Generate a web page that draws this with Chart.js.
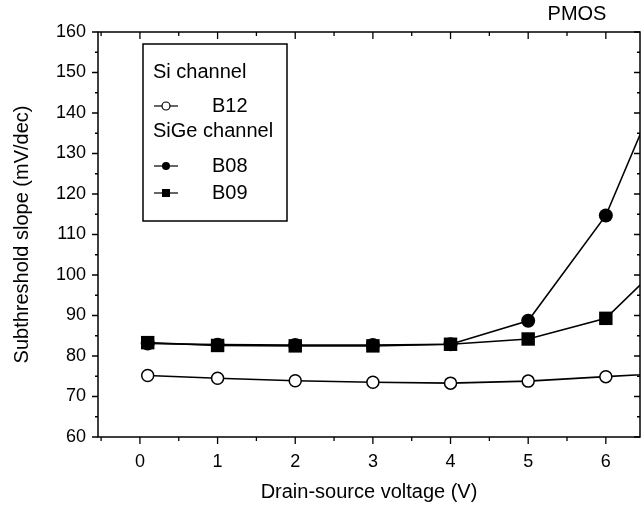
<!DOCTYPE html>
<html>
<head>
<meta charset="utf-8">
<script src="https://cdn.jsdelivr.net/npm/chart.js@4"></script>
<style>
  html, body { margin: 0; padding: 0; background: #fff; }
  #wrap { width: 644px; height: 508px; }
</style>
</head>
<body>
<div id="wrap"><canvas id="chart" width="644" height="508"></canvas></div>
<script>
// ── Data ──────────────────────────────────────────────────────
const voltage = [0.1, 1, 2, 3, 4, 5, 6, 7];
const b12 = [75.2, 74.5, 73.9, 73.5, 73.3, 73.8, 74.9, 76];
const b08 = [83.1, 82.8, 82.7, 82.7, 82.9, 88.7, 114.7, 160];
const b09 = [83.3, 82.6, 82.5, 82.5, 82.9, 84.2, 89.3, 108];
const xTicks = [0, 1, 2, 3, 4, 5, 6];
const yTicks = [60, 70, 80, 90, 100, 110, 120, 130, 140, 150, 160];

const FONT = 'Arial, "Liberation Sans", sans-serif';
const toXY = ys => voltage.map((x, i) => ({ x, y: ys[i] }));

// ── Frame, tick marks, legend box, PMOS label ─────────────────
const decor = {
  id: 'decor',
  beforeDraw(chart) {
    const ctx = chart.ctx;
    ctx.save();
    ctx.fillStyle = '#fff';
    ctx.fillRect(0, 0, chart.width, chart.height);
    ctx.restore();
  },
  afterDraw(chart) {
    const { ctx, chartArea: a, scales: { x, y } } = chart;
    ctx.save();
    ctx.strokeStyle = '#000';
    ctx.lineWidth = 1.5;
    ctx.strokeRect(a.left, a.top, a.right - a.left, a.bottom - a.top);

    ctx.lineWidth = 1.3;
    ctx.beginPath();
    for (let v = 60; v <= 160; v += 5) {
      const py = y.getPixelForValue(v);
      const len = v % 10 === 0 ? 6 : 3;
      ctx.moveTo(a.left - len, py); ctx.lineTo(a.left, py);
      ctx.moveTo(a.right - len, py); ctx.lineTo(a.right, py);
    }
    for (let v = -0.5; v <= 6.4; v += 0.5) {
      const px = x.getPixelForValue(v);
      if (px < a.left || px > a.right) continue;
      const len = Number.isInteger(v) ? 7 : 4;
      ctx.moveTo(px, a.bottom); ctx.lineTo(px, a.bottom + len);
      ctx.moveTo(px, a.top); ctx.lineTo(px, a.top + len);
    }
    ctx.stroke();

    // legend
    ctx.lineWidth = 1.5;
    ctx.strokeRect(143, 44, 144, 177);
    ctx.fillStyle = '#000';
    ctx.font = '20px ' + FONT;
    ctx.textBaseline = 'middle';
    ctx.textAlign = 'left';
    ctx.fillText('Si channel', 153, 72);
    ctx.fillText('SiGe channel', 153, 131);
    const rows = [['B12', 106, 'open'], ['B08', 166, 'dot'], ['B09', 193, 'sq']];
    rows.forEach(([label, ry, kind]) => {
      ctx.lineWidth = 1.2;
      ctx.beginPath();
      ctx.moveTo(154, ry); ctx.lineTo(178, ry);
      ctx.stroke();
      ctx.beginPath();
      if (kind === 'sq') {
        ctx.fillRect(162, ry - 4, 8, 8);
      } else {
        ctx.arc(166, ry, 4, 0, Math.PI * 2);
        if (kind === 'open') { ctx.fillStyle = '#fff'; ctx.fill(); ctx.fillStyle = '#000'; ctx.stroke(); }
        else ctx.fill();
      }
      ctx.fillText(label, 212, ry);
    });

    ctx.font = '20px ' + FONT;
    ctx.textAlign = 'center';
    ctx.fillText('PMOS', 577, 14);
    ctx.restore();
  }
};

const line = { borderColor: '#000', borderWidth: 1.6, tension: 0, clip: 0, pointBorderColor: '#000' };

new Chart(document.getElementById('chart'), {
  type: 'line',
  data: {
    datasets: [
      { ...line, label: 'B12', data: toXY(b12), pointStyle: 'circle', pointRadius: 6,
        pointBackgroundColor: '#fff', pointBorderWidth: 1.5 },
      { ...line, label: 'B08', data: toXY(b08), pointStyle: 'circle', pointRadius: 7,
        pointBackgroundColor: '#000', pointBorderWidth: 0 },
      { ...line, label: 'B09', data: toXY(b09), pointStyle: 'rect', pointRadius: 9.5,
        pointBackgroundColor: '#000', pointBorderWidth: 0 },
    ]
  },
  options: {
    responsive: false,
    animation: false,
    devicePixelRatio: 1,
    layout: { autoPadding: false, padding: { top: 32, right: 4, bottom: 0, left: 0 } },
    plugins: { legend: { display: false }, tooltip: { enabled: false } },
    scales: {
      x: {
        type: 'linear', min: -0.54, max: 6.44,
        afterBuildTicks: s => { s.ticks = xTicks.map(v => ({ value: v })); },
        afterFit: s => { s.height = 71; s.paddingLeft = 0; s.paddingRight = 0; },
        grid: { display: false, drawTicks: false },
        border: { display: false },
        ticks: { color: '#000', font: { family: FONT, size: 18 }, padding: 14, maxRotation: 0, autoSkip: false },
        title: { display: true, text: 'Drain-source voltage (V)', color: '#000',
                 font: { family: FONT, size: 20 }, padding: { top: 0, bottom: 4 } }
      },
      y: {
        min: 60, max: 160,
        afterBuildTicks: s => { s.ticks = yTicks.map(v => ({ value: v })); },
        afterFit: s => { s.width = 98; s.paddingTop = 0; s.paddingBottom = 0; },
        grid: { display: false, drawTicks: false },
        border: { display: false },
        ticks: { color: '#000', font: { family: FONT, size: 18 }, padding: 12, autoSkip: false },
        title: { display: true, text: 'Subthreshold slope (mV/dec)', color: '#000',
                 font: { family: FONT, size: 20 }, padding: { top: 10, bottom: 0 } }
      }
    }
  },
  plugins: [decor]
});
</script>
</body>
</html>
